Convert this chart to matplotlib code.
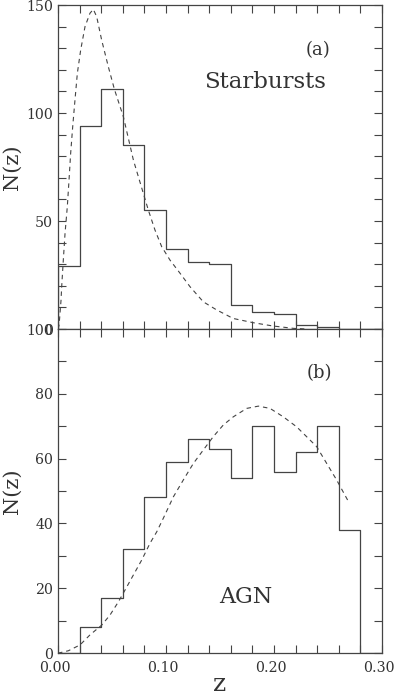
import numpy as np
import matplotlib
matplotlib.use("Agg")
import matplotlib.pyplot as plt
import matplotlib.transforms as mtransforms
from matplotlib.ticker import MultipleLocator, FormatStrFormatter

# bin edges shared by both histograms (width 0.02)
edges = [0.00, 0.02, 0.04, 0.06, 0.08, 0.10, 0.12, 0.14, 0.16,
         0.18, 0.20, 0.22, 0.24, 0.26, 0.28, 0.30]

# (a) starbursts
sb_counts = [29, 94, 111, 85, 55, 37, 31, 30, 11, 8, 7, 2, 1, 0, 0]
sb_model_z = [0.0, 0.001, 0.0028, 0.0034, 0.0049, 0.0065, 0.0086, 0.0102, 0.0117,
              0.0136, 0.0157, 0.0179, 0.021, 0.025, 0.0296, 0.0327, 0.0358,
              0.0404, 0.0466, 0.0522, 0.0605, 0.0698, 0.0744, 0.079, 0.0836,
              0.0898, 0.096, 0.1037, 0.113, 0.1222, 0.1345, 0.147, 0.156,
              0.162, 0.181, 0.199, 0.218, 0.23]
sb_model_n = [0.0, 1.9, 13.4, 19.6, 31.9, 44.3, 56.6, 69.0, 81.3,
              93.7, 106.0, 118.4, 129.2, 140.0, 146.2, 148.0, 144.6,
              133.8, 121.4, 111.0, 98.3, 78.2, 70.5, 62.8, 55.1,
              45.8, 38.1, 31.9, 25.8, 19.6, 12.6, 8.8, 6.5,
              4.9, 2.9, 1.4, 0.3, 0.0]

# (b) AGN
agn_counts = [0, 8, 17, 32, 48, 59, 66, 63, 54, 70, 56, 62, 70, 38, 0]
agn_model_z = [0.0, 0.0019, 0.0096, 0.0204, 0.0296, 0.0404, 0.0481, 0.0559,
               0.062, 0.0698, 0.0775, 0.0852, 0.0914, 0.0975, 0.1068, 0.116,
               0.1253, 0.1346, 0.1438, 0.1531, 0.1623, 0.1747, 0.1855, 0.1963,
               0.2086, 0.221, 0.2395, 0.2488, 0.258, 0.2698]
agn_model_n = [0.0, 0.1, 0.7, 2.5, 5.6, 8.6, 11.7, 15.8,
               19.4, 24.1, 28.7, 33.9, 37.4, 41.6, 48.2, 53.4,
               58.5, 62.7, 66.8, 70.4, 72.9, 75.5, 76.2, 75.5,
               72.9, 69.8, 63.7, 58.5, 53.4, 46.2]

plt.rcParams['font.family'] = 'DejaVu Serif'
plt.rcParams['mathtext.fontset'] = 'dejavuserif'

fig = plt.figure(figsize=(3.96, 6.95), dpi=100)
ax_a = fig.add_axes([0.1465, 0.5266, 0.8182, 0.4662])
ax_b = fig.add_axes([0.1465, 0.0604, 0.8182, 0.4662])

line_col = '#444444'
text_col = '#333333'


def draw_hist(ax, counts):
    # closed step outline like the original (drops to zero at the ends)
    xs = [edges[0]]
    ys = [0]
    for i, c in enumerate(counts):
        xs += [edges[i], edges[i + 1]]
        ys += [c, c]
    xs.append(edges[len(counts)])
    ys.append(0)
    ax.plot(xs, ys, color=line_col, lw=0.9)


def style(ax, ymax, ymajor):
    ax.set_xlim(0, 0.30)
    ax.set_ylim(0, ymax)
    ax.xaxis.set_major_locator(MultipleLocator(0.10))
    ax.xaxis.set_minor_locator(MultipleLocator(0.02))
    ax.yaxis.set_major_locator(MultipleLocator(ymajor))
    ax.yaxis.set_minor_locator(MultipleLocator(10))
    ax.tick_params(which='both', direction='in', top=True, right=True,
                   length=6, width=0.8, color=line_col, labelsize=10.2,
                   labelcolor=text_col)
    for s in ax.spines.values():
        s.set_color(line_col)
        s.set_linewidth(0.9)
    ax.set_ylabel('N(z)', fontsize=15, labelpad=3, color=text_col)


draw_hist(ax_a, sb_counts)
ax_a.plot(sb_model_z, sb_model_n, color=line_col, lw=0.8, ls=(0, (4, 3.5)))
style(ax_a, 150, 50)
ax_a.set_xticklabels([])
ax_a.text(0.2407, 129, '(a)', fontsize=13, ha='center', va='center',
          color=text_col)
ax_a.text(0.192, 114.5, 'Starbursts', fontsize=16.5, ha='center', va='center',
          color=text_col)

draw_hist(ax_b, agn_counts)
ax_b.plot(agn_model_z, agn_model_n, color=line_col, lw=0.8, ls=(0, (4, 3.5)))
style(ax_b, 100, 20)
ax_b.tick_params(axis='x', which='major', pad=6)
ax_b.xaxis.set_major_formatter(FormatStrFormatter('%.2f'))
ax_b.text(0.2417, 86.4, '(b)', fontsize=13, ha='center', va='center',
          color=text_col)
ax_b.text(0.1738, 17.4, 'AGN', fontsize=16, ha='center', va='center',
          color=text_col)
ax_b.set_xlabel('z', fontsize=18, labelpad=-2, color=text_col)

# the original's x tick labels sit a few pixels left of their ticks
shift = mtransforms.ScaledTranslation(-3 / 100, 0, fig.dpi_scale_trans)
for lab in ax_b.get_xticklabels():
    lab.set_transform(lab.get_transform() + shift)

fig.savefig('out.png', dpi=100)
